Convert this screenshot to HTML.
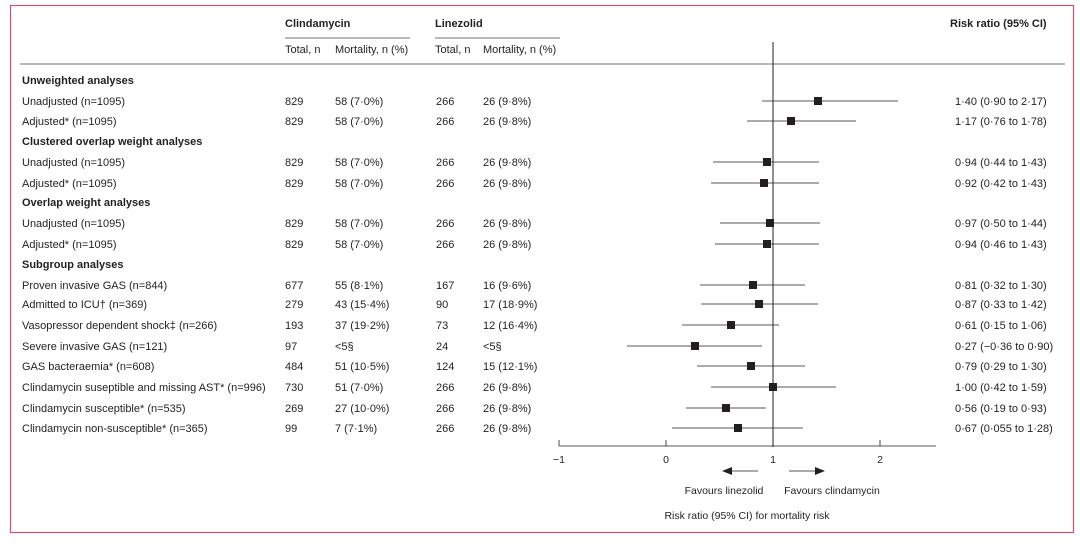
<!DOCTYPE html>
<html><head><meta charset="utf-8"><style>
body{margin:0;width:1080px;height:540px;background:#fff;font-family:"Liberation Sans",sans-serif;color:#231f20}
</style></head><body>
<svg width="1080" height="540" xmlns="http://www.w3.org/2000/svg" font-family="Liberation Sans, sans-serif" font-size="11" fill="#231f20">
<rect x="10.5" y="5.5" width="1063" height="527" fill="none" stroke="#c9526f" stroke-width="1.2"/>
<text x="285" y="27" font-weight="bold">Clindamycin</text>
<text x="435" y="27" font-weight="bold">Linezolid</text>
<text x="950" y="27" font-weight="bold">Risk ratio (95% CI)</text>
<line x1="285" y1="38" x2="410" y2="38" stroke="#444" stroke-width="0.8"/>
<line x1="435" y1="38" x2="560" y2="38" stroke="#444" stroke-width="0.8"/>
<text x="285" y="53">Total, n</text><text x="335" y="53">Mortality, n (%)</text>
<text x="435" y="53">Total, n</text><text x="483" y="53">Mortality, n (%)</text>
<line x1="20" y1="64" x2="1065" y2="64" stroke="#444" stroke-width="0.8"/>
<g font-weight="bold">
<text x="22" y="84">Unweighted analyses</text>
<text x="22" y="145">Clustered overlap weight analyses</text>
<text x="22" y="206">Overlap weight analyses</text>
<text x="22" y="268">Subgroup analyses</text>
</g>
<g id="rows">
<text x="22" y="105">Unadjusted (n=1095)</text><text x="285" y="105">829</text><text x="335" y="105">58 (7·0%)</text><text x="436" y="105">266</text><text x="483" y="105">26 (9·8%)</text><text x="955" y="105">1·40 (0·90 to 2·17)</text>
<text x="22" y="125">Adjusted* (n=1095)</text><text x="285" y="125">829</text><text x="335" y="125">58 (7·0%)</text><text x="436" y="125">266</text><text x="483" y="125">26 (9·8%)</text><text x="955" y="125">1·17 (0·76 to 1·78)</text>
<text x="22" y="166">Unadjusted (n=1095)</text><text x="285" y="166">829</text><text x="335" y="166">58 (7·0%)</text><text x="436" y="166">266</text><text x="483" y="166">26 (9·8%)</text><text x="955" y="166">0·94 (0·44 to 1·43)</text>
<text x="22" y="187">Adjusted* (n=1095)</text><text x="285" y="187">829</text><text x="335" y="187">58 (7·0%)</text><text x="436" y="187">266</text><text x="483" y="187">26 (9·8%)</text><text x="955" y="187">0·92 (0·42 to 1·43)</text>
<text x="22" y="227">Unadjusted (n=1095)</text><text x="285" y="227">829</text><text x="335" y="227">58 (7·0%)</text><text x="436" y="227">266</text><text x="483" y="227">26 (9·8%)</text><text x="955" y="227">0·97 (0·50 to 1·44)</text>
<text x="22" y="248">Adjusted* (n=1095)</text><text x="285" y="248">829</text><text x="335" y="248">58 (7·0%)</text><text x="436" y="248">266</text><text x="483" y="248">26 (9·8%)</text><text x="955" y="248">0·94 (0·46 to 1·43)</text>
<text x="22" y="289">Proven invasive GAS (n=844)</text><text x="285" y="289">677</text><text x="335" y="289">55 (8·1%)</text><text x="436" y="289">167</text><text x="483" y="289">16 (9·6%)</text><text x="955" y="289">0·81 (0·32 to 1·30)</text>
<text x="22" y="308">Admitted to ICU† (n=369)</text><text x="285" y="308">279</text><text x="335" y="308">43 (15·4%)</text><text x="436" y="308">90</text><text x="483" y="308">17 (18·9%)</text><text x="955" y="308">0·87 (0·33 to 1·42)</text>
<text x="22" y="329">Vasopressor dependent shock‡ (n=266)</text><text x="285" y="329">193</text><text x="335" y="329">37 (19·2%)</text><text x="436" y="329">73</text><text x="483" y="329">12 (16·4%)</text><text x="955" y="329">0·61 (0·15 to 1·06)</text>
<text x="22" y="350">Severe invasive GAS (n=121)</text><text x="285" y="350">97</text><text x="335" y="350">&lt;5§</text><text x="436" y="350">24</text><text x="483" y="350">&lt;5§</text><text x="955" y="350">0·27 (−0·36 to 0·90)</text>
<text x="22" y="370">GAS bacteraemia* (n=608)</text><text x="285" y="370">484</text><text x="335" y="370">51 (10·5%)</text><text x="436" y="370">124</text><text x="483" y="370">15 (12·1%)</text><text x="955" y="370">0·79 (0·29 to 1·30)</text>
<text x="22" y="391">Clindamycin suseptible and missing AST* (n=996)</text><text x="285" y="391">730</text><text x="335" y="391">51 (7·0%)</text><text x="436" y="391">266</text><text x="483" y="391">26 (9·8%)</text><text x="955" y="391">1·00 (0·42 to 1·59)</text>
<text x="22" y="412">Clindamycin susceptible* (n=535)</text><text x="285" y="412">269</text><text x="335" y="412">27 (10·0%)</text><text x="436" y="412">266</text><text x="483" y="412">26 (9·8%)</text><text x="955" y="412">0·56 (0·19 to 0·93)</text>
<text x="22" y="432">Clindamycin non-susceptible* (n=365)</text><text x="285" y="432">99</text><text x="335" y="432">7 (7·1%)</text><text x="436" y="432">266</text><text x="483" y="432">26 (9·8%)</text><text x="955" y="432">0·67 (0·055 to 1·28)</text>
</g>
<g stroke="#231f20" stroke-width="0.8">
<line x1="773" y1="42" x2="773" y2="447" stroke-width="1"/>
<line x1="559" y1="446" x2="936" y2="446"/>
<line x1="559" y1="446" x2="559" y2="440"/><line x1="666" y1="446" x2="666" y2="440"/><line x1="773" y1="446" x2="773" y2="440"/><line x1="880" y1="446" x2="880" y2="440"/>
<line x1="762" y1="101" x2="898" y2="101"/>
<line x1="747" y1="121" x2="856" y2="121"/>
<line x1="713" y1="162" x2="819" y2="162"/>
<line x1="711" y1="183" x2="819" y2="183"/>
<line x1="720" y1="223" x2="820" y2="223"/>
<line x1="715" y1="244" x2="819" y2="244"/>
<line x1="700" y1="285" x2="805" y2="285"/>
<line x1="701" y1="304" x2="818" y2="304"/>
<line x1="682" y1="325" x2="779" y2="325"/>
<line x1="627" y1="346" x2="762" y2="346"/>
<line x1="697" y1="366" x2="805" y2="366"/>
<line x1="711" y1="387" x2="836" y2="387"/>
<line x1="686" y1="408" x2="766" y2="408"/>
<line x1="672" y1="428" x2="803" y2="428"/>
<line x1="732" y1="471" x2="758" y2="471"/><line x1="789" y1="471" x2="815" y2="471"/>
</g>
<g fill="#231f20">
<rect x="814" y="97" width="8" height="8"/>
<rect x="787" y="117" width="8" height="8"/>
<rect x="763" y="158" width="8" height="8"/>
<rect x="760" y="179" width="8" height="8"/>
<rect x="766" y="219" width="8" height="8"/>
<rect x="763" y="240" width="8" height="8"/>
<rect x="749" y="281" width="8" height="8"/>
<rect x="755" y="300" width="8" height="8"/>
<rect x="727" y="321" width="8" height="8"/>
<rect x="691" y="342" width="8" height="8"/>
<rect x="747" y="362" width="8" height="8"/>
<rect x="769" y="383" width="8" height="8"/>
<rect x="722" y="404" width="8" height="8"/>
<rect x="734" y="424" width="8" height="8"/>
<polygon points="722,471 732,467 732,475"/>
<polygon points="825,471 815,467 815,475"/>
</g>
<g font-size="10.5" text-anchor="middle">
<text x="559" y="463">−1</text><text x="666" y="463">0</text><text x="773" y="463">1</text><text x="880" y="463">2</text>
</g>
<text x="724" y="494" text-anchor="middle" font-size="10.5">Favours linezolid</text>
<text x="832" y="494" text-anchor="middle" font-size="10.5">Favours clindamycin</text>
<text x="747" y="519" text-anchor="middle" font-size="10.5">Risk ratio (95% CI) for mortality risk</text>
</svg>
</body></html>
